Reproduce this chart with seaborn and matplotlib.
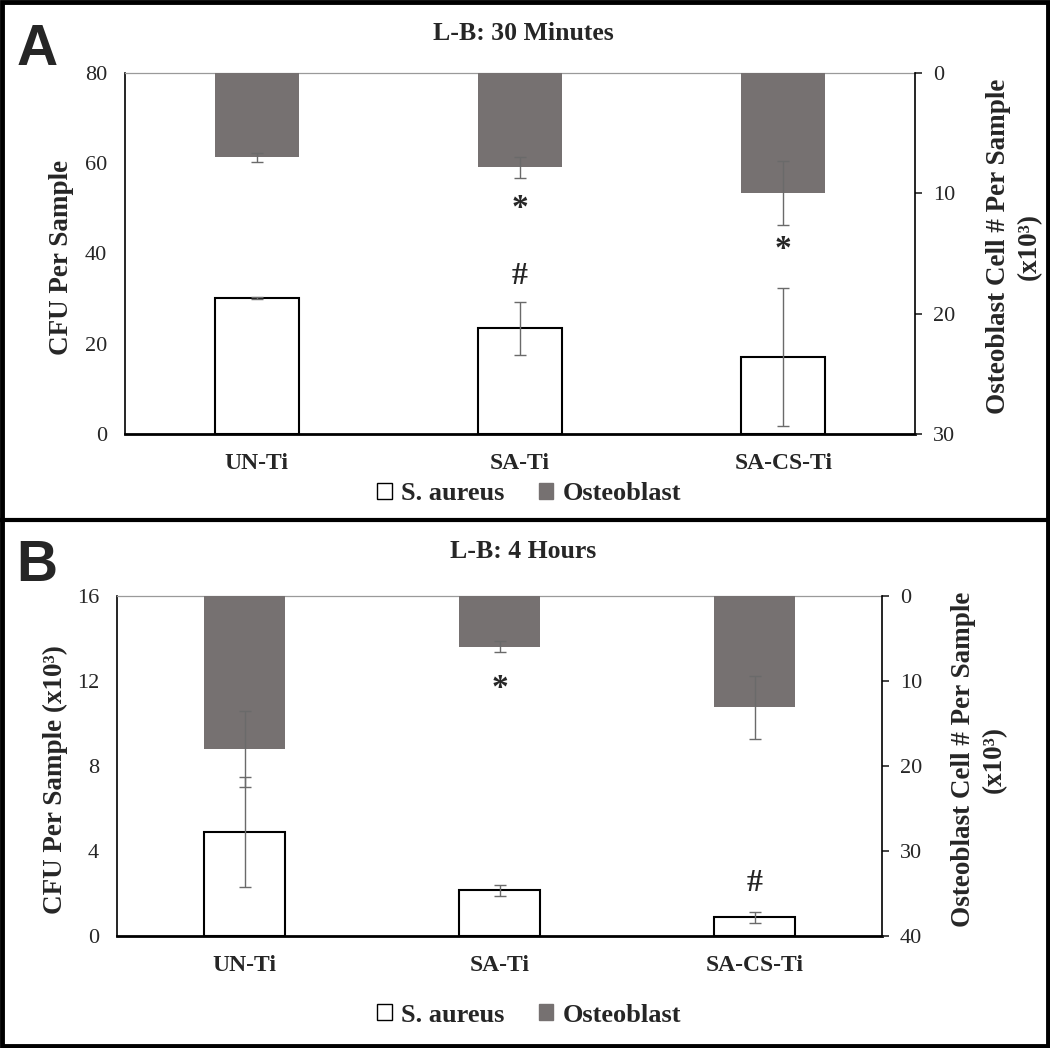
import numpy as np
import pandas as pd
import matplotlib
matplotlib.use("Agg")
import matplotlib.pyplot as plt
import matplotlib.patches as mpatches
from matplotlib.lines import Line2D
import seaborn as sns

# ==================== ДАННЫЕ ====================
categories = ["UN-Ti", "SA-Ti", "SA-CS-Ti"]

# Панель A: L-B 30 минут
a_sa_mean = [30.1, 23.4, 17.0]      # CFU per sample
a_sa_err = [0.2, 5.8, 15.3]
a_ob_mean = [7.0, 7.85, 10.0]       # osteoblast x10^3
a_ob_err = [0.38, 0.85, 2.65]

# Панель B: L-B 4 часа
b_sa_mean = [4.9, 2.15, 0.88]       # CFU per sample x10^3
b_sa_err = [2.6, 0.25, 0.26]
b_ob_mean = [18.0, 5.95, 13.1]
b_ob_err = [4.5, 0.6, 3.7]

# значимость: (символ, категория, значение, ось)
a_marks = [("*", 1, 11.3, "right"), ("#", 1, 34.8, "left"), ("*", 2, 14.7, "right")]
b_marks = [("*", 1, 10.9, "right"), ("#", 2, 2.45, "left")]

GRAY = "#767171"
ERR = "#6a6a6a"
SERIF = "Liberation Serif"

# ==================== ФИГУРА ====================
sns.set_style("white")
plt.rcParams["font.family"] = [SERIF, "DejaVu Serif"]

W, H = 1050, 1048
fig = plt.figure(figsize=(W / 100, H / 100), dpi=100)


def fx(px):
    return px / W


def fy(py):
    return 1 - py / H


def draw_panel(box, title, letter, sa_mean, sa_err, ob_mean, ob_err,
               left_max, left_step, right_max, right_step, left_label,
               marks, geo):
    l, t, r, b = box
    ax = fig.add_axes([fx(l), fy(b), fx(r) - fx(l), (b - t) / H])

    df_sa = pd.DataFrame({"group": categories, "value": sa_mean})
    df_ob = pd.DataFrame({"group": categories, "value": ob_mean})

    sns.barplot(data=df_sa, x="group", y="value", ax=ax, color="white",
                edgecolor="black", linewidth=1.5, width=0.32,
                errorbar=None, saturation=1)
    ax.errorbar(range(len(categories)), sa_mean, yerr=sa_err, fmt="none",
                ecolor=ERR, elinewidth=1, capsize=4, capthick=1)
    ax.set_ylim(0, left_max)
    ax.set_yticks(np.arange(0, left_max + 0.1, left_step))
    ax.set_xlim(-0.5, len(categories) - 0.5)
    ax.set_xlabel("")
    ax.set_ylabel("")
    ax.tick_params(axis="y", length=0, pad=13, labelsize=16)
    ax.tick_params(axis="x", length=0, pad=14, labelsize=17)
    for lab in ax.get_xticklabels():
        lab.set_fontweight("bold")

    ax2 = ax.twinx()
    sns.barplot(data=df_ob, x="group", y="value", ax=ax2, color=GRAY,
                linewidth=0, width=0.32, errorbar=None, saturation=1)
    ax2.errorbar(range(len(categories)), ob_mean, yerr=ob_err, fmt="none",
                 ecolor=ERR, elinewidth=1, capsize=4, capthick=1)
    ax2.set_ylim(right_max, 0)
    ax2.set_yticks(np.arange(0, right_max + 0.1, right_step))
    ax2.set_xlim(-0.5, len(categories) - 0.5)
    ax2.set_ylabel("")
    ax2.set_xlabel("")
    ax2.tick_params(axis="y", length=5, width=1.2, direction="out", pad=8,
                    labelsize=16, right=True)

    for a in (ax, ax2):
        for s in a.spines.values():
            s.set_visible(False)
    ax.spines["left"].set_visible(True)
    ax.spines["left"].set_color("black")
    ax.spines["left"].set_linewidth(1.2)
    ax.spines["bottom"].set_visible(True)
    ax.spines["bottom"].set_color("black")
    ax.spines["bottom"].set_linewidth(2)
    ax.spines["top"].set_visible(True)
    ax.spines["top"].set_color("#9a9a9a")
    ax.spines["top"].set_linewidth(0.9)
    ax2.spines["right"].set_visible(True)
    ax2.spines["right"].set_color("black")
    ax2.spines["right"].set_linewidth(1.2)

    # метки значимости
    for sym, i, val, side in marks:
        target = ax2 if side == "right" else ax
        target.text(i, val, sym, ha="center", va="center",
                    fontsize=24 if sym == "*" else 23, fontweight="bold")

    # подписи осей
    ax.text(geo["ylab_l"], geo["ylab_l_y"], left_label, transform=ax.transAxes,
            rotation=90, ha="center", va="center", fontsize=19.5,
            fontweight="bold")
    ax2.text(geo["ylab_r"], geo["ylab_r_y"],
             "Osteoblast Cell # Per Sample\n(x10³)", transform=ax2.transAxes,
             rotation=90, ha="center", va="center", fontsize=19.5,
             fontweight="bold", linespacing=1.3, multialignment="center")

    # заголовок, буква панели, легенда
    fig.text(fx(523), fy(geo["title_y"]), title, ha="center", va="center",
             fontsize=18.5, fontweight="bold")
    fig.text(fx(37), fy(geo["letter_y"]), letter, ha="center", va="center",
             fontsize=41, fontweight="bold",
             family=["Liberation Sans", "DejaVu Sans"])

    handles = [mpatches.Patch(facecolor="white", edgecolor="black", linewidth=1),
               mpatches.Patch(facecolor=GRAY, edgecolor=GRAY)]
    fig.legend(handles, ["S. aureus", "Osteoblast"], loc="center",
               bbox_to_anchor=(fx(529), fy(geo["legend_y"])), ncol=2,
               frameon=False, handlelength=0.55, handleheight=0.55,
               handletextpad=0.35, columnspacing=1.3,
               prop={"family": SERIF, "weight": "bold", "size": 19})
    return ax, ax2


draw_panel((125, 73, 915, 434), "L-B: 30 Minutes", "A",
           a_sa_mean, a_sa_err, a_ob_mean, a_ob_err,
           80, 20, 30, 10, "CFU Per Sample", a_marks,
           {"ylab_l": (62 - 125) / 790, "ylab_l_y": 0.49,
            "ylab_r": (1014 - 125) / 790, "ylab_r_y": 0.52,
            "title_y": 33, "letter_y": 50, "legend_y": 494})

draw_panel((117, 596, 882, 936), "L-B: 4 Hours", "B",
           b_sa_mean, b_sa_err, b_ob_mean, b_ob_err,
           16, 4, 40, 10, "CFU Per Sample (x10³)", b_marks,
           {"ylab_l": (55 - 117) / 765, "ylab_l_y": 0.46,
            "ylab_r": (979 - 117) / 765, "ylab_r_y": 0.52,
            "title_y": 552, "letter_y": 566, "legend_y": 1015})

# рамки панелей
fig.add_artist(mpatches.Rectangle((fx(2), fy(1046)), fx(1046), 1044 / H,
                                  transform=fig.transFigure, fill=False,
                                  edgecolor="black", linewidth=3.5))
fig.add_artist(Line2D([0, 1], [fy(520), fy(520)], transform=fig.transFigure,
                      color="black", linewidth=3))

fig.savefig("out.png", dpi=100)
